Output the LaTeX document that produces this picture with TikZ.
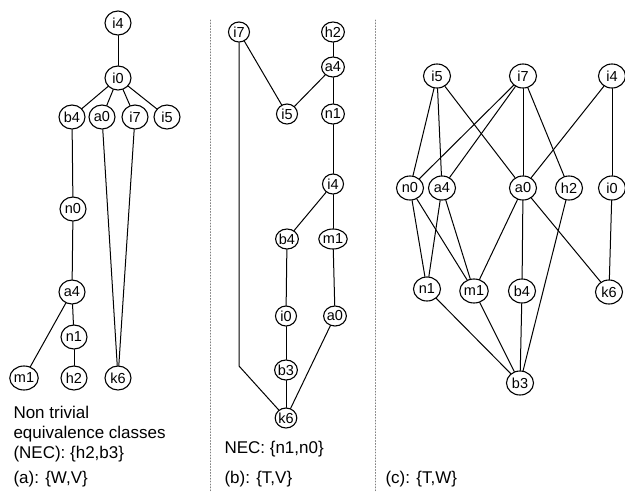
\documentclass[tikz,border=0pt]{standalone}
\usepackage{fontspec}
\setmainfont{Liberation Sans}
\usetikzlibrary{shapes.geometric}
\begin{document}
\begin{tikzpicture}[x=1pt, y=-1pt, line join=round, line cap=round, line width=1pt,
  vtx/.style={draw, ellipse, line width=1.1pt, minimum width=26pt, minimum height=24pt, inner sep=0pt, font=\fontsize{14.5}{14.5}\selectfont},
  svtx/.style={vtx, minimum width=21pt, minimum height=20pt},
  lbl/.style={anchor=base west, inner sep=0pt, font=\fontsize{17}{20}\selectfont},
  sep/.style={gray, dotted, line width=0.9pt}]
\useasboundingbox (0,0) rectangle (625,491);
\draw[sep] (210,20) -- (210,491);
\draw[sep] (375,20) -- (375,491);
% (a)
\foreach \n/\x/\y in {i4/118/23, i0/118/78, b4/72/117, a0/102/117, i7/135/117, i5/167/117,
  n0/73/209, a4/72/292, n1/74/337, m1/24/378, h2/74/378, k6/118/378}
  \node[vtx] (a\n) at (\x,\y) {\n};
\foreach \u/\v in {i4/i0, i0/b4, i0/a0, i0/i7, i0/i5, b4/n0, n0/a4, a4/n1, n1/h2, a4/m1, a0/k6, i7/k6}
  \draw (a\u) -- (a\v);
\node[lbl] (anec1) at (13,418) {Non trivial};
\node[lbl] (anec2) at (13,438) {equivalence classes};
\node[lbl] (anec3) at (13,458) {(NEC): \{h2,b3\}};
\node[lbl] (acap) at (13,483) {(a): \{W,V\}};
% (b)
\foreach \n/\x/\y in {i7/239/32, h2/333/32, a4/333/67, i5/287/114, n1/333/114, i4/333/184,
  b4/287/239, m1/333/239, i0/286/316, a0/335/316, b3/286/370, k6/286/418}
  \node[svtx] (b\n) at (\x,\y) {\n};
\foreach \u/\v in {i7/i5, a4/i5, h2/a4, a4/n1, n1/i4, i4/b4, i4/m1, b4/i0, i0/b3, b3/k6, m1/a0, a0/k6}
  \draw (b\u) -- (b\v);
\coordinate (bcorner) at (239,366);
\draw (bi7) -- (bcorner) -- (bk6);
\node[lbl] (bnec) at (224,453) {NEC: \{n1,n0\}};
\node[lbl] (bcap) at (224,483) {(b): \{T,V\}};
% (c)
\foreach \n/\x/\y in {i5/437/76, i7/523/76, i4/612/76, n0/410/188, a4/442/188, a0/523/188,
  h2/569/188, i0/612/188, n1/427/289, m1/474/291, b4/522/291, k6/609/292, b3/520/383}
  \node[vtx, minimum width=27pt] (c\n) at (\x,\y) {\n};
\foreach \u/\v in {i5/n0, i5/a4, i5/a0, i7/n0, i7/a4, i7/a0, i7/h2, i4/a0, i4/i0,
  n0/n1, n0/m1, a4/n1, a4/m1, a0/m1, a0/b4, a0/k6, h2/b3, i0/k6, n1/b3, m1/b3, b4/b3}
  \draw (c\u) -- (c\v);
\node[lbl] (ccap) at (385,483) {(c): \{T,W\}};
\end{tikzpicture}
\end{document}
